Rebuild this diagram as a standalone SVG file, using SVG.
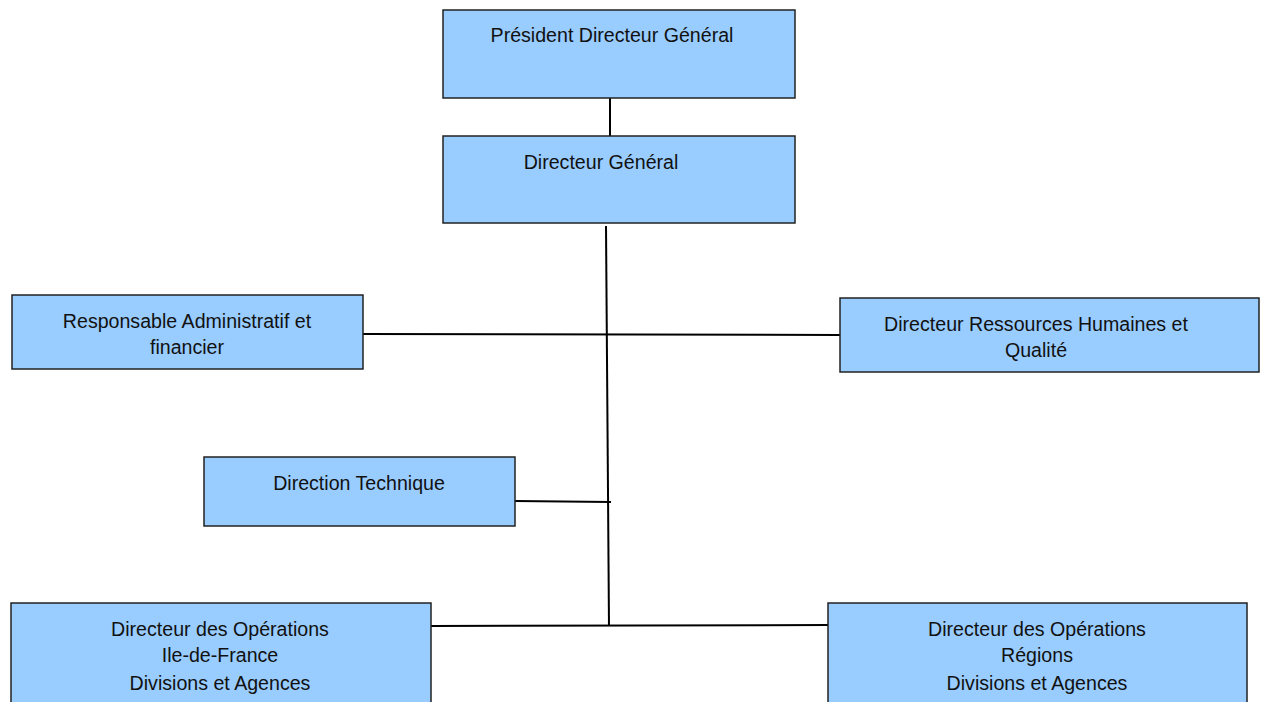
<svg xmlns="http://www.w3.org/2000/svg" width="1261" height="702" viewBox="0 0 1261 702">
<style>
.box{fill:#99ccff;stroke:#222;stroke-width:1.5}
.t{font-family:"Liberation Sans",Arial,sans-serif;font-size:19.6px;fill:#111;text-anchor:middle}
.c{stroke:#000;stroke-width:2;fill:none}
</style>
<rect width="1261" height="702" fill="#fff"/>
<g id="connectors">
<line class="c" x1="610" y1="98" x2="610" y2="136"/>
<line class="c" x1="606" y1="226" x2="609" y2="626"/>
<line class="c" x1="363" y1="334" x2="840" y2="335"/>
<line class="c" x1="515" y1="501" x2="611" y2="502"/>
<line class="c" x1="431" y1="626" x2="828" y2="625"/>
</g>
<g id="pdg">
<rect class="box" x="443" y="10" width="352" height="88"/>
<text class="t" x="612" y="42">Président Directeur Général</text>
</g>
<g id="dg">
<rect class="box" x="443" y="136" width="352" height="87"/>
<text class="t" x="601" y="169">Directeur Général</text>
</g>
<g id="raf">
<rect class="box" x="12" y="295" width="351" height="74"/>
<text class="t" x="187" y="328">Responsable Administratif et</text>
<text class="t" x="187" y="354">financier</text>
</g>
<g id="drh">
<rect class="box" x="840" y="298" width="419" height="74"/>
<text class="t" x="1036" y="331">Directeur Ressources Humaines et</text>
<text class="t" x="1036" y="357">Qualité</text>
</g>
<g id="dt">
<rect class="box" x="204" y="457" width="311" height="69"/>
<text class="t" x="359" y="490">Direction Technique</text>
</g>
<g id="doidf">
<rect class="box" x="11" y="603" width="420" height="110"/>
<text class="t" x="220" y="636">Directeur des Opérations</text>
<text class="t" x="220" y="662">Ile-de-France</text>
<text class="t" x="220" y="690">Divisions et Agences</text>
</g>
<g id="doreg">
<rect class="box" x="828" y="603" width="419" height="110"/>
<text class="t" x="1037" y="636">Directeur des Opérations</text>
<text class="t" x="1037" y="662">Régions</text>
<text class="t" x="1037" y="690">Divisions et Agences</text>
</g>
</svg>
